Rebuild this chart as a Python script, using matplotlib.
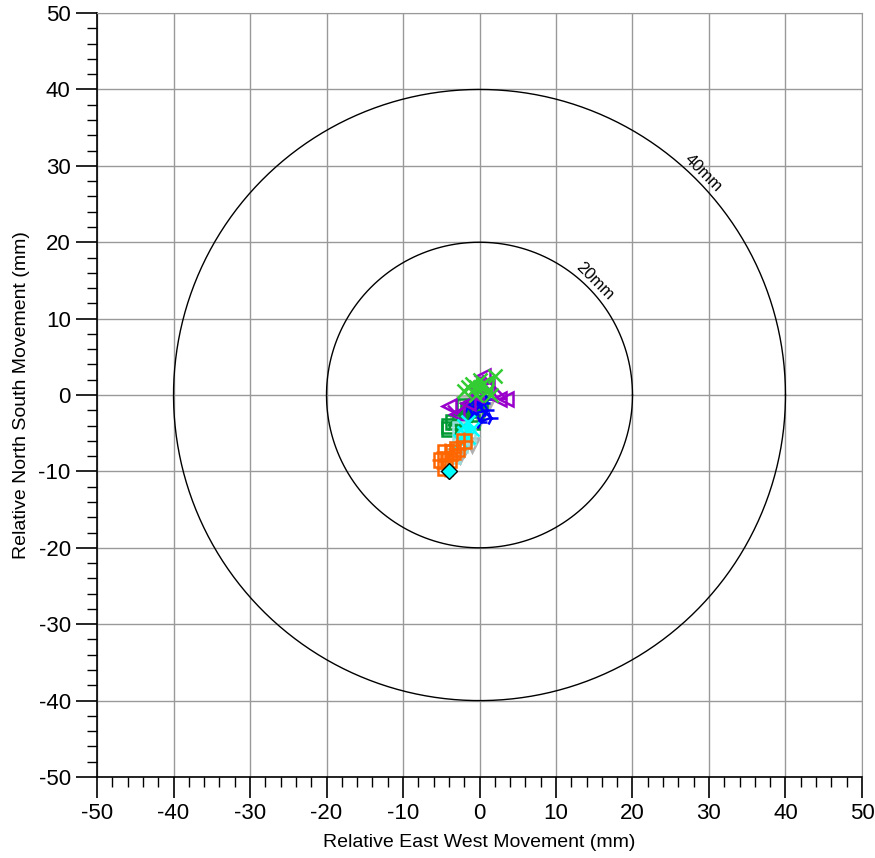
import numpy as np
import matplotlib.pyplot as plt
from matplotlib.ticker import MultipleLocator

plt.rcParams['font.family'] = ['Liberation Sans', 'DejaVu Sans']
plt.rcParams['axes.unicode_minus'] = False

# survey points, relative movement in mm (east-west, north-south)
orange_x = [-4.5, -5.0, -4.0, -4.5, -3.5, -3.0, -2.0]
orange_y = [-9.5, -8.5, -8.5, -7.5, -7.5, -7.0, -6.0]
paleteal_x = [-3.5, -3.0, -2.5, -2.0, -1.5, -2.5]
paleteal_y = [-8.0, -7.0, -6.5, -6.0, -5.5, -4.5]
cyan_x = [-2.5, -2.0, -1.5, -2.0, -1.0, -1.5]
cyan_y = [-6.0, -5.0, -5.5, -4.0, -4.5, -3.5]
gray_x = [-2.5, -2.0, -1.0, -3.0, -1.5, 0.0, -1.0, 0.5, -2.0, 1.0]
gray_y = [-8.0, -7.0, -6.5, -3.5, -2.5, -3.0, -1.5, -2.0, -1.0, -1.5]
dkgreen_x = [-4.0, -3.5, -4.0, -2.5, -1.5, -0.5, -2.0, 0.0, -1.0]
dkgreen_y = [-4.5, -3.5, -4.0, -3.0, -2.0, -2.5, -1.5, -1.0, -3.5]
blue_x = [-1.5, -0.5, 0.5, -1.0, 1.0, 0.0, 1.5, -0.5, 1.0]
blue_y = [-1.5, -0.5, -1.0, -2.5, -2.0, -3.5, -3.0, -1.0, -0.5]
purple_x = [-4.0, -3.0, -1.5, -0.5, 1.0, 2.5, 3.5, 0.5, -0.5]
purple_y = [-1.5, -2.5, -1.0, 0.0, 1.0, -0.5, -0.5, 2.5, 1.0]
green_x = [-2.0, -1.0, -0.5, 0.0, -1.5, 0.5, 1.0, 0.0, 1.5, 2.0, -0.5]
green_y = [0.5, 1.5, 0.0, 2.0, 1.0, 1.5, 0.5, 1.0, 0.0, 2.5, 1.0]
start_x = [-4.0]
start_y = [-10.0]

radii = [20, 40]

fig = plt.figure(figsize=(8.75, 8.58), dpi=100)
ax = fig.add_axes([0.1109, 0.0944, 0.8742, 0.8904])

series = [
    (gray_x, gray_y, '#b0b0b0', 'v'),
    (dkgreen_x, dkgreen_y, '#009933', 's'),
    (blue_x, blue_y, '#0000ff', '4'),
    (purple_x, purple_y, '#9900cc', '<'),
    (green_x, green_y, '#33cc33', 'x'),
    (paleteal_x, paleteal_y, '#99dddd', 's'),
    (cyan_x, cyan_y, '#00ffff', 'x'),
    (orange_x, orange_y, '#ff6600', 's'),
]
for xs, ys, col, mk in series:
    ax.plot(xs, ys, color=col, lw=1.8, marker=mk, ms=10,
            mfc='none', mec=col, mew=1.8, zorder=3)
ax.plot(orange_x, orange_y, color='#ff6600', lw=0, marker='+', ms=13,
        mew=1.8, zorder=3)
ax.plot(start_x, start_y, lw=0, marker='D', ms=8, mfc='#00ffff',
        mec='black', mew=1, zorder=4)

t = np.linspace(0, 2 * np.pi, 400)
for r in radii:
    ax.plot(r * np.cos(t), r * np.sin(t), color='black', lw=1, zorder=2)
    a = np.deg2rad(45)
    ax.text((r + 1.0) * np.cos(a) + 0.2, (r + 1.0) * np.sin(a), f'{r}mm',
            rotation=-45, ha='center', va='center', fontsize=12)

ax.set_xlim(-50, 50)
ax.set_ylim(-50, 50)
ax.xaxis.set_major_locator(MultipleLocator(10))
ax.yaxis.set_major_locator(MultipleLocator(10))
ax.xaxis.set_minor_locator(MultipleLocator(2))
ax.yaxis.set_minor_locator(MultipleLocator(2))
ax.grid(True, which='major', color='#999999', lw=1, zorder=1)
ax.tick_params(which='major', direction='out', length=15, width=1.2,
               labelsize=16, pad=4)
ax.tick_params(which='minor', direction='out', length=7, width=1)
for s in ['top', 'right']:
    ax.spines[s].set_color('#999999')
for s in ['left', 'bottom']:
    ax.spines[s].set_linewidth(1.2)
ax.set_xlabel('Relative East West Movement (mm)', fontsize=14, labelpad=7)
ax.set_ylabel('Relative North South Movement (mm)', fontsize=14, labelpad=6)

fig.savefig('out.png', dpi=100)
